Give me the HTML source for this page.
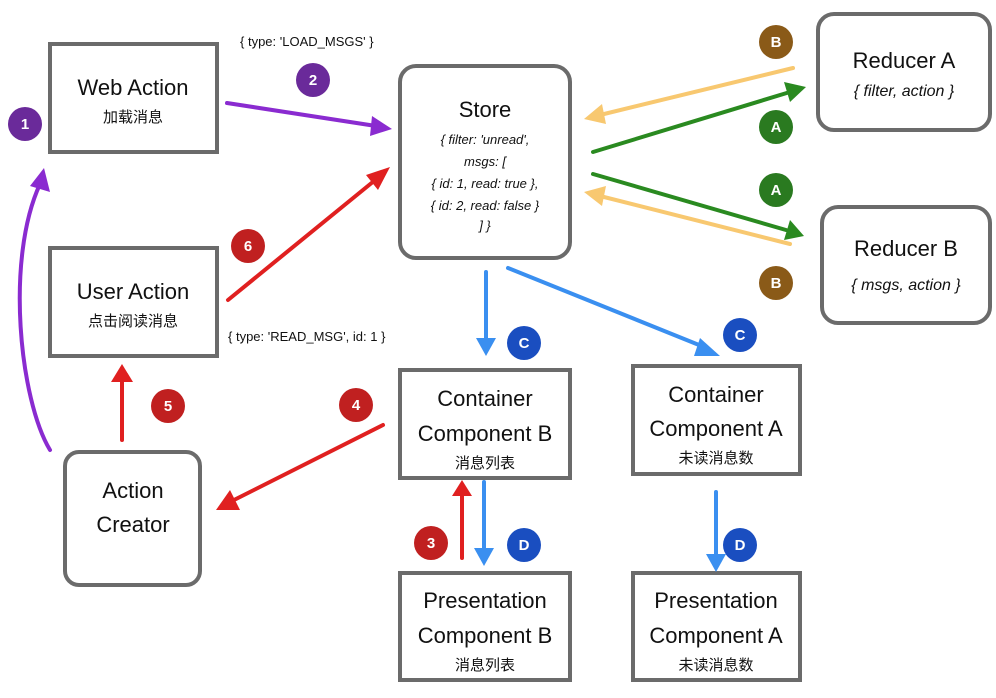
<!DOCTYPE html>
<html><head><meta charset="utf-8"><style>
body{margin:0;background:#fff;}
svg{display:block;font-family:"Liberation Sans","Noto Sans CJK SC",sans-serif;}
.t{font-size:22px;fill:#111;text-anchor:middle;}
.s{font-size:15px;fill:#111;text-anchor:middle;}
.c{font-size:13px;fill:#111;text-anchor:middle;font-style:italic;}
.n{font-size:15px;fill:#fff;text-anchor:middle;font-weight:bold;}
.l{font-size:13px;fill:#111;}
.b{fill:#fff;stroke:#6b6b6b;stroke-width:4;}
</style></head><body>
<svg width="996" height="698" viewBox="0 0 996 698">
<defs>
<marker id="mp" markerWidth="8" markerHeight="8" refX="5" refY="4" orient="auto" markerUnits="userSpaceOnUse" viewBox="0 0 8 8"><path d="M0,0L8,4L0,8z" fill="#8a2bd0"/></marker>
</defs>
<g>
<rect class="b" x="50" y="44" width="167" height="108"/>
<rect class="b" x="50" y="248" width="167" height="108"/>
<rect class="b" x="65" y="452" width="135" height="133" rx="14"/>
<rect class="b" x="400" y="66" width="170" height="192" rx="16"/>
<rect class="b" x="818" y="14" width="172" height="116" rx="16"/>
<rect class="b" x="822" y="207" width="168" height="116" rx="16"/>
<rect class="b" x="400" y="370" width="170" height="108"/>
<rect class="b" x="633" y="366" width="167" height="108"/>
<rect class="b" x="400" y="573" width="170" height="107"/>
<rect class="b" x="633" y="573" width="167" height="107"/>
</g>
<text class="t" x="133" y="95">Web Action</text><text class="s" x="133" y="122">加载消息</text>
<text class="t" x="133" y="299">User Action</text><text class="s" x="133" y="326">点击阅读消息</text>
<text class="t" x="133" y="498">Action</text><text class="t" x="133" y="532">Creator</text>
<text class="t" x="485" y="117">Store</text>
<text class="c" x="485" y="144">{ filter: 'unread',</text>
<text class="c" x="485" y="166">msgs: [</text>
<text class="c" x="485" y="188">{ id: 1, read: true },</text>
<text class="c" x="485" y="210">{ id: 2, read: false }</text>
<text class="c" x="485" y="230">] }</text>
<text class="t" x="904" y="68">Reducer A</text><text class="c" x="904" y="96" style="font-size:16px">{ filter, action }</text>
<text class="t" x="906" y="256">Reducer B</text><text class="c" x="906" y="290" style="font-size:16px">{ msgs, action }</text>
<text class="t" x="485" y="406">Container</text><text class="t" x="485" y="441">Component B</text><text class="s" x="485" y="468">消息列表</text>
<text class="t" x="716" y="402">Container</text><text class="t" x="716" y="436">Component A</text><text class="s" x="716" y="463">未读消息数</text>
<text class="t" x="485" y="608">Presentation</text><text class="t" x="485" y="643">Component B</text><text class="s" x="485" y="670">消息列表</text>
<text class="t" x="716" y="608">Presentation</text><text class="t" x="716" y="643">Component A</text><text class="s" x="716" y="670">未读消息数</text>
<text class="l" x="240" y="46">{ type: 'LOAD_MSGS' }</text>
<text class="l" x="228" y="341">{ type: 'READ_MSG', id: 1 }</text>
<g stroke-width="4" fill="none" stroke-linecap="round">
<path d="M227,103L376,126" stroke="#8a2bd0"/><path d="M372,116L392,129L370,136z" fill="#8a2bd0" stroke="none"/>
<path d="M50,450C20,400 5,260 40,184" stroke="#8a2bd0"/><path d="M30,186L44,168L50,192z" fill="#8a2bd0" stroke="none"/>
<path d="M228,300L374,181" stroke="#e02020"/><path d="M366,175L390,167L378,190z" fill="#e02020" stroke="none"/>
<path d="M122,440L122,380" stroke="#e02020"/><path d="M111,382L122,364L133,382z" fill="#e02020" stroke="none"/>
<path d="M383,425L234,500" stroke="#e02020"/><path d="M230,490L216,510L240,510z" fill="#e02020" stroke="none"/>
<path d="M462,558L462,494" stroke="#e02020"/><path d="M452,496L462,480L472,496z" fill="#e02020" stroke="none"/>
<g stroke="#3a8ff0">
<path d="M486,272L486,340"/><path d="M508,268L704,347"/><path d="M484,482L484,550"/><path d="M716,492L716,556"/>
</g>
<g fill="#3a8ff0" stroke="none">
<path d="M476,338L486,356L496,338z"/><path d="M700,338L720,356L694,356z"/><path d="M474,548L484,566L494,548z"/><path d="M706,554L716,572L726,554z"/>
</g>
<path d="M793,68L600,115" stroke="#f8c870"/><path d="M602,104L584,119L606,124z" fill="#f8c870" stroke="none"/>
<path d="M790,244L600,196" stroke="#f8c870"/><path d="M606,186L584,192L602,206z" fill="#f8c870" stroke="none"/>
<path d="M593,152L790,92" stroke="#2a8a20"/><path d="M784,82L806,87L790,102z" fill="#2a8a20" stroke="none"/>
<path d="M593,174L786,230" stroke="#2a8a20"/><path d="M790,220L804,236L784,240z" fill="#2a8a20" stroke="none"/>
</g>
<g>
<circle cx="25" cy="124" r="17" fill="#6a2a9a"/><text class="n" x="25" y="129">1</text>
<circle cx="313" cy="80" r="17" fill="#6a2a9a"/><text class="n" x="313" y="85">2</text>
<circle cx="431" cy="543" r="17" fill="#c02020"/><text class="n" x="431" y="548">3</text>
<circle cx="356" cy="405" r="17" fill="#c02020"/><text class="n" x="356" y="410">4</text>
<circle cx="168" cy="406" r="17" fill="#c02020"/><text class="n" x="168" y="411">5</text>
<circle cx="248" cy="246" r="17" fill="#c02020"/><text class="n" x="248" y="251">6</text>
<circle cx="524" cy="343" r="17" fill="#1a4ec0"/><text class="n" x="524" y="348">C</text>
<circle cx="740" cy="335" r="17" fill="#1a4ec0"/><text class="n" x="740" y="340">C</text>
<circle cx="524" cy="545" r="17" fill="#1a4ec0"/><text class="n" x="524" y="550">D</text>
<circle cx="740" cy="545" r="17" fill="#1a4ec0"/><text class="n" x="740" y="550">D</text>
<circle cx="776" cy="42" r="17" fill="#8a5a18"/><text class="n" x="776" y="47">B</text>
<circle cx="776" cy="283" r="17" fill="#8a5a18"/><text class="n" x="776" y="288">B</text>
<circle cx="776" cy="127" r="17" fill="#2a7a20"/><text class="n" x="776" y="132">A</text>
<circle cx="776" cy="190" r="17" fill="#2a7a20"/><text class="n" x="776" y="195">A</text>
</g>
</svg>
</body></html>
